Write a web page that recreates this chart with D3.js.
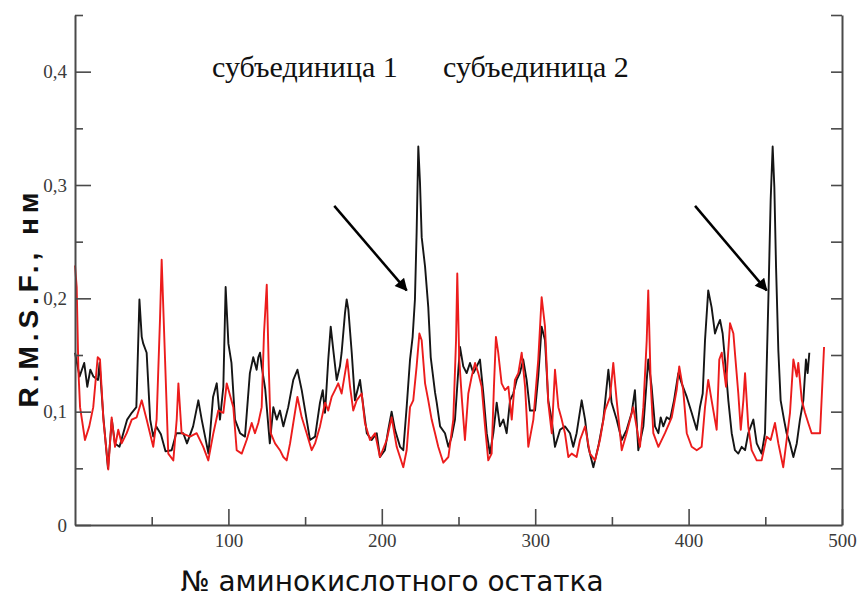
<!DOCTYPE html>
<html>
<head>
<meta charset="utf-8">
<script src="https://cdn.jsdelivr.net/npm/d3@7"></script>
<style>
  body { margin: 0; background: #fff; }
  svg { display: block; }
</style>
</head>
<body>
<div id="chart"></div>
<script>
// RMSF per residue, subunit 1 (black) and subunit 2 (red)
const blackResidue = [0,3,6,8,10,12,15,16,18.5,21.5,24,26,29,34,37,40,42,43.5,44.5,46.7,49,51,53,56,59,63,66,70.6,73,77,80.4,82.6,87,90,92.4,94.5,96.7,98.2,100,102,104.3,107.6,110.8,114,116.2,118.4,119.5,120.6,121.7,124,127,129.3,131.5,133.6,135.8,139,142.3,145,147.8,151,153.2,156.5,159.7,161.5,163,165.1,166.7,168.4,170.6,172.7,173.8,176,177.1,178.2,180.4,182.5,185.8,188,190.2,193.4,196.7,198.8,202,204.2,206.4,208.6,211.9,214,216.2,218.4,220.1,221.6,222.7,223.8,224.9,226,228.2,230.3,231.9,234.7,235.8,238,241.2,243.4,245.6,247.7,249.9,251,253.1,255.3,257.5,259.7,261.9,264,266.2,268.4,270.5,272.7,274.9,277,279.2,281.4,283.6,285.7,287.9,290,292.2,294.4,296.6,299.9,302,304.2,306.4,308.5,310.7,312.9,316.2,319.4,322.7,324.8,327,330.3,332.5,334.6,337.9,341.1,344.4,347.7,349.8,353.1,356.4,359.6,362.9,365,367.2,370.5,373.7,375.9,378.1,380.3,381.8,383.5,385.7,387.9,390.5,393.3,395.5,398.8,402,405.3,407.4,409.2,410.7,412.8,415,417.2,418.7,420.5,422.2,423.7,425.9,428.1,430.2,432.4,434.6,436.8,438.9,442.2,444.4,447.6,449.8,452,453.5,454.8,455.9,457,458.5,460,462.2,463.9,466.1,468.3,470.5,472.6,474.8,476.5,477.6,478.7];
const blackRmsf = [0.152,0.131,0.143,0.122,0.137,0.131,0.128,0.143,0.095,0.05,0.093,0.072,0.069,0.093,0.099,0.104,0.199,0.166,0.16,0.152,0.093,0.078,0.087,0.08,0.065,0.066,0.081,0.081,0.072,0.087,0.11,0.093,0.063,0.113,0.125,0.093,0.122,0.21,0.16,0.143,0.093,0.081,0.078,0.134,0.148,0.137,0.148,0.152,0.14,0.12,0.072,0.104,0.093,0.101,0.087,0.104,0.128,0.137,0.119,0.093,0.075,0.078,0.108,0.119,0.099,0.146,0.175,0.154,0.128,0.14,0.152,0.187,0.199,0.19,0.152,0.11,0.128,0.104,0.081,0.075,0.081,0.06,0.066,0.084,0.1,0.084,0.069,0.066,0.104,0.146,0.166,0.199,0.258,0.334,0.302,0.254,0.228,0.192,0.148,0.117,0.108,0.087,0.081,0.069,0.078,0.093,0.137,0.157,0.14,0.134,0.143,0.134,0.14,0.146,0.116,0.081,0.063,0.081,0.108,0.087,0.093,0.081,0.11,0.116,0.128,0.134,0.146,0.128,0.101,0.101,0.131,0.175,0.163,0.11,0.093,0.069,0.084,0.087,0.081,0.069,0.081,0.11,0.093,0.069,0.051,0.069,0.093,0.137,0.108,0.093,0.075,0.084,0.099,0.119,0.066,0.087,0.146,0.122,0.087,0.081,0.095,0.087,0.095,0.093,0.11,0.134,0.125,0.113,0.099,0.084,0.104,0.116,0.163,0.207,0.192,0.169,0.175,0.181,0.169,0.146,0.11,0.081,0.066,0.063,0.069,0.066,0.081,0.093,0.072,0.063,0.081,0.199,0.287,0.334,0.298,0.228,0.154,0.11,0.093,0.081,0.072,0.06,0.072,0.093,0.11,0.146,0.134,0.152];

const redResidue = [0,1.1,2.2,3.3,6.5,9.3,11.9,14.8,16.3,18.5,21.7,23.9,26.1,28.2,30.4,33.7,37,40.2,43.5,46.7,51,53.2,55.4,56.5,58.7,60.8,64.1,66.3,67.4,69.5,75,79.3,83.6,86.9,90.2,93.4,96.7,98.9,103.2,105.4,108.7,111.9,115.2,117.3,119.5,121.7,123.2,125,126.3,127.6,130.4,133.6,135.8,138,140.2,142.3,145,147.8,151,154.3,156.5,159.7,163,165.1,167.3,169.5,171.6,173.8,177.5,179.3,181.4,183.6,186.9,189,192.3,195.6,198.8,203.2,206.4,209.7,214,216.2,218.4,220.5,222.7,224.5,226,228.2,230.3,232.5,234.7,236.8,240.1,243.4,246.6,248.4,249.2,250.5,252.1,254.2,256.4,258.6,260.8,262.9,265.1,267.3,269.4,271.6,273.1,274.4,275.9,278.1,280.3,282.5,284.7,286.8,289,291.2,293.4,295.5,298.8,302,304.2,306.4,308.5,310.8,312.9,315.1,317.3,319.4,321.6,323.8,327,329.2,332.5,335.7,339,342.2,345.5,348.8,350.9,353.1,356.4,359.6,363.9,368.3,370.5,372.7,373.7,375.3,377,380.3,384.6,389,392.2,393.9,396.5,398.8,402,405.3,408.5,410.7,412.8,415,418.3,420,421.6,424.4,427,429.2,430.2,432.4,434,435.7,436.8,438.9,441.1,444.4,447.6,450.9,453.5,456.3,458.5,461.7,463.9,466.1,468.3,470.5,471.5,473.8,475.9,478,480.2,483.5,485.7,488.3];
const redRmsf = [0.229,0.21,0.137,0.104,0.075,0.087,0.104,0.148,0.146,0.093,0.049,0.095,0.069,0.084,0.072,0.081,0.093,0.095,0.11,0.093,0.069,0.093,0.181,0.234,0.146,0.063,0.057,0.093,0.125,0.081,0.078,0.081,0.069,0.057,0.081,0.101,0.099,0.125,0.104,0.066,0.063,0.075,0.09,0.081,0.09,0.104,0.169,0.212,0.14,0.081,0.072,0.066,0.06,0.057,0.072,0.09,0.113,0.095,0.081,0.066,0.072,0.087,0.108,0.101,0.113,0.119,0.125,0.116,0.146,0.122,0.101,0.11,0.116,0.09,0.075,0.081,0.06,0.075,0.095,0.069,0.051,0.066,0.104,0.11,0.14,0.169,0.163,0.125,0.11,0.093,0.081,0.069,0.055,0.06,0.093,0.163,0.222,0.146,0.113,0.075,0.116,0.131,0.143,0.134,0.122,0.087,0.057,0.063,0.122,0.166,0.152,0.125,0.119,0.122,0.093,0.128,0.134,0.152,0.122,0.069,0.093,0.146,0.201,0.175,0.108,0.081,0.137,0.104,0.093,0.081,0.06,0.063,0.06,0.075,0.087,0.063,0.057,0.075,0.101,0.113,0.143,0.11,0.066,0.081,0.104,0.069,0.104,0.163,0.207,0.125,0.081,0.069,0.081,0.095,0.119,0.14,0.119,0.081,0.069,0.066,0.069,0.104,0.128,0.11,0.084,0.146,0.152,0.122,0.178,0.169,0.152,0.116,0.084,0.11,0.134,0.087,0.066,0.057,0.057,0.078,0.075,0.09,0.072,0.051,0.075,0.099,0.146,0.131,0.143,0.11,0.099,0.09,0.081,0.081,0.081,0.157];

const yMajorTicks = [0, 0.1, 0.2, 0.3, 0.4];
const yMinorTicks = [0.05, 0.15, 0.25, 0.35, 0.45];
const xMajorTicks = [100, 200, 300, 400, 500];
const xMinorTicks = [50, 150, 250, 350, 450];
const subunitLabels = ["субъединица 1", "субъединица 2"];
// arrows pointing at the two peaks: [from residue, from rmsf, to residue, to rmsf]
const arrows = [[169, 0.2816, 216.2, 0.207], [404.2, 0.2816, 450.9, 0.207]];

const width = 862, height = 609;
const axisColor = "#4a4a4a";

const svg = d3.select("#chart").append("svg")
    .attr("width", width)
    .attr("height", height)
    .style("background", "#fff");

const x = d3.scaleLinear().domain([0, 500]).range([75, 842]);
const y = d3.scaleLinear().domain([0, 0.45]).range([525, 15]);

const fmt = d => d === 0 ? "0" : d3.format(".1f")(d).replace(".", ",");

function styleAxis(g) {
    g.selectAll("path.domain").attr("stroke", axisColor).attr("stroke-width", 2);
    g.selectAll(".tick line").attr("stroke", axisColor).attr("stroke-width", 1.6);
    g.selectAll(".tick text")
        .attr("fill", "#3a3a3a")
        .style("font-family", "'Liberation Serif', 'Times New Roman', serif")
        .style("font-size", "19px");
}

// lines first so the axes sit on top
const line = d3.line().x(d => x(d[0])).y(d => y(d[1]));
const blackSeries = blackResidue.map((r, i) => [r, blackRmsf[i]]);
const redSeries = redResidue.map((r, i) => [r, redRmsf[i]]);

svg.append("path")
    .datum(blackSeries)
    .attr("fill", "none")
    .attr("stroke", "#151515")
    .attr("stroke-width", 1.9)
    .attr("stroke-linejoin", "round")
    .attr("d", line);

svg.append("path")
    .datum(redSeries)
    .attr("fill", "none")
    .attr("stroke", "#ec1c1c")
    .attr("stroke-width", 1.9)
    .attr("stroke-linejoin", "round")
    .attr("d", line);

// left axis
svg.append("g")
    .attr("transform", "translate(75,0)")
    .call(d3.axisLeft(y).tickValues(yMajorTicks).tickSizeInner(-16).tickSizeOuter(0).tickPadding(8).tickFormat(fmt))
    .call(styleAxis);
svg.append("g")
    .attr("transform", "translate(75,0)")
    .call(d3.axisLeft(y).tickValues(yMinorTicks).tickSizeInner(-8).tickSizeOuter(0).tickFormat(""))
    .call(g => g.select(".domain").remove())
    .call(styleAxis);

// right axis, ticks only
svg.append("g")
    .attr("transform", "translate(842,0)")
    .call(d3.axisLeft(y).tickValues(yMinorTicks.concat(yMajorTicks.slice(1))).tickSizeInner(11).tickSizeOuter(0).tickFormat(""))
    .call(styleAxis);

// bottom axis
svg.append("g")
    .attr("transform", `translate(0,${y(0)})`)
    .call(d3.axisBottom(x).tickValues(xMajorTicks).tickSizeInner(-16).tickSizeOuter(0).tickPadding(9).tickFormat(d3.format("d")))
    .call(styleAxis);
svg.append("g")
    .attr("transform", `translate(0,${y(0)})`)
    .call(d3.axisBottom(x).tickValues(xMinorTicks).tickSizeInner(-8).tickSizeOuter(0).tickFormat(""))
    .call(g => g.select(".domain").remove())
    .call(styleAxis);

// arrows
const defs = svg.append("defs");
defs.append("marker")
    .attr("id", "head")
    .attr("viewBox", "0 0 10 10")
    .attr("refX", 9)
    .attr("refY", 5)
    .attr("markerWidth", 6)
    .attr("markerHeight", 5)
    .attr("markerUnits", "strokeWidth")
    .attr("orient", "auto")
    .append("path")
    .attr("d", "M0,0 L10,5 L0,10 z")
    .attr("fill", "#000");

svg.append("g").selectAll("line")
    .data(arrows)
    .join("line")
    .attr("x1", d => x(d[0]))
    .attr("y1", d => y(d[1]))
    .attr("x2", d => x(d[2]))
    .attr("y2", d => y(d[3]))
    .attr("stroke", "#000")
    .attr("stroke-width", 2.5)
    .attr("marker-end", "url(#head)");

// subunit labels
svg.append("g").selectAll("text")
    .data(subunitLabels)
    .join("text")
    .attr("x", (d, i) => [212, 443][i])
    .attr("y", 77)
    .attr("fill", "#111")
    .style("font-family", "'Liberation Serif', 'Times New Roman', serif")
    .style("font-size", "30px")
    .text(d => d);

// axis titles
svg.append("text")
    .attr("transform", "translate(38,300) rotate(-90)")
    .attr("text-anchor", "middle")
    .attr("fill", "#111")
    .attr("textLength", 215)
    .attr("lengthAdjust", "spacing")
    .style("font-family", "'Liberation Sans', Arial, sans-serif")
    .style("font-weight", "bold")
    .style("font-size", "28px")
    .text("R.M.S.F., нм");

svg.append("text")
    .attr("x", 392)
    .attr("y", 591)
    .attr("text-anchor", "middle")
    .attr("fill", "#111")
    .attr("textLength", 423)
    .attr("lengthAdjust", "spacingAndGlyphs")
    .style("font-family", "'DejaVu Sans', sans-serif")
    .style("font-size", "28px")
    .text("№ аминокислотного остатка");
</script>
</body>
</html>
